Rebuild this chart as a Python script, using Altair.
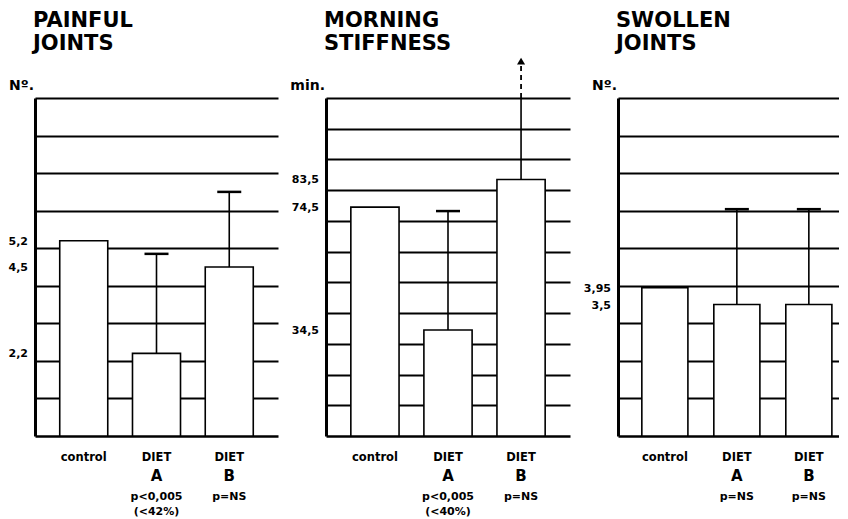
import altair as alt
import pandas as pd

# ---------------- data ----------------
groups = ["control", "DIET A", "DIET B"]
group_top = ["control", "DIET", "DIET"]
group_letter = ["", "A", "B"]

painful_title = ["PAINFUL", "JOINTS"]
painful_unit = "Nº."
painful_values = [5.2, 2.2, 4.5]
painful_labels = ["5,2", "2,2", "4,5"]
painful_err = [None, 4.85, 6.5]
painful_p = ["", "p<0,005", "p=NS"]
painful_pct = ["", "(<42%)", ""]
painful_grid = [1, 2, 3, 4, 5, 6, 7, 8, 9]

stiff_title = ["MORNING", "STIFFNESS"]
stiff_unit = "min."
stiff_values = [74.5, 34.5, 83.5]
stiff_labels = ["74,5", "34,5", "83,5"]
stiff_err = [None, 73.2, 122.0]   # DIET B runs off the scale (arrow)
stiff_p = ["", "p<0,005", "p=NS"]
stiff_pct = ["", "(<40%)", ""]
stiff_grid = [10, 20, 30, 40, 50, 60, 70, 80, 90, 100, 110]

swollen_title = ["SWOLLEN", "JOINTS"]
swollen_unit = "Nº."
swollen_values = [3.95, 3.5, 3.5]
swollen_labels = ["3,95", "3,5", ""]
swollen_err = [None, 6.04, 6.04]
swollen_p = ["", "p=NS", "p=NS"]
swollen_pct = ["", "", ""]
swollen_grid = [1, 2, 3, 4, 5, 6, 7, 8, 9]

# ---------------- styling ----------------
H = 338
FONT = "DejaVu Sans"


def panel(title, unit, values, labels, err, pvals, pcts, ymax, grid, width,
          pin=0.34, pout=0.34, align=0.5, anchor=False):
    df = pd.DataFrame({
        "group": groups, "top": group_top, "letter": group_letter,
        "value": values, "label": labels, "err": err,
        "p": pvals, "pct": pcts,
    })
    df["err_solid"] = df["err"].clip(upper=ymax)

    xs = alt.Scale(domain=groups, paddingInner=pin, paddingOuter=pout, align=align)
    ys = alt.Scale(domain=[0, ymax], nice=False, zero=True)
    X = alt.X("group:N", scale=xs,
              axis=alt.Axis(labels=False, ticks=False, title=None, grid=False,
                            domainColor="black", domainWidth=2.5))

    def Y(f):
        return alt.Y(f, type="quantitative", scale=ys,
                     axis=alt.Axis(values=grid, grid=True, gridColor="black",
                                   gridWidth=2, gridOpacity=1, labels=False,
                                   ticks=False, title=None, domainColor="black",
                                   domainWidth=3))

    base = alt.Chart(df)
    has_err = base.transform_filter("isValid(datum.err)")

    err_line = has_err.mark_rule(color="black", strokeWidth=1.6).encode(
        x=X, y=Y("value"), y2="err_solid")
    bars = base.mark_bar(fill="white", stroke="black", strokeWidth=1.6).encode(
        x=X, y=Y("value"))
    caps = has_err.transform_filter(f"datum.err <= {ymax}").mark_tick(
        color="black", size=24, thickness=2.5, opacity=1).encode(x=X, y=Y("err"))
    over = has_err.transform_filter(f"datum.err > {ymax}")
    dashed = over.mark_rule(color="black", strokeWidth=1.8, strokeDash=[5, 4]).encode(
        x=X, y=Y("err_solid"), y2="err")
    arrow = over.mark_point(shape="triangle-up", filled=True, size=65,
                            color="black", opacity=1).encode(x=X, y=Y("err"))

    vlabels = base.transform_filter("datum.label != ''").mark_text(
        align="right", baseline="middle", dx=-7, dy=1, font=FONT, fontWeight="bold",
        fontSize=11, color="black").encode(x=alt.value(0), y=Y("value"), text="label")

    txt = dict(align="center", baseline="alphabetic", font=FONT,
               fontWeight="bold", color="black")
    xl_top = base.mark_text(fontSize=11.5, **txt).encode(
        x=X, y=alt.value(H + 25), text="top")
    xl_letter = base.mark_text(fontSize=15, **txt).encode(
        x=X, y=alt.value(H + 45), text="letter")
    xl_p = base.mark_text(fontSize=11, **txt).encode(
        x=X, y=alt.value(H + 64), text="p")
    xl_pct = base.mark_text(fontSize=11, **txt).encode(
        x=X, y=alt.value(H + 79), text="pct")

    one = pd.DataFrame({"k": [0]})
    ttl = alt.Chart(one).mark_text(
        text=title, align="left", baseline="alphabetic", font=FONT,
        fontWeight="bold", fontSize=21, lineHeight=23, color="black").encode(
        x=alt.value(-2), y=alt.value(-71))
    unit_t = alt.Chart(one).mark_text(
        text=unit, align="right", baseline="alphabetic", font=FONT,
        fontWeight="bold", fontSize=14, color="black").encode(
        x=alt.value(-1), y=alt.value(-8))

    layers = [err_line, dashed, bars, caps, arrow, vlabels,
              xl_top, xl_letter, xl_p, xl_pct, ttl, unit_t]
    if anchor:
        layers.append(alt.Chart(one).mark_rule(opacity=0, strokeWidth=0.01).encode(
            x=alt.value(-27), y=alt.value(-90), y2=alt.value(-89)))
    return alt.layer(*layers).properties(width=width, height=H)


p1 = panel(painful_title, painful_unit, painful_values, painful_labels,
           painful_err, painful_p, painful_pct, 9, painful_grid, 243, anchor=True)
p2 = panel(stiff_title, stiff_unit, stiff_values, stiff_labels,
           stiff_err, stiff_p, stiff_pct, 110, stiff_grid, 244)
p3 = panel(swollen_title, swollen_unit, swollen_values, swollen_labels,
           swollen_err, swollen_p, swollen_pct, 9, swollen_grid, 221,
           pin=0.36, pout=0.215, align=0.77)

chart = alt.hconcat(p1, p2, p3, spacing=48, bounds="flush").properties(
    padding={"left": 0, "top": 0, "right": 0, "bottom": 0},
    background="white",
).configure_view(stroke=None)

chart.save("out.html", embed_options={"renderer": "svg", "actions": False})
